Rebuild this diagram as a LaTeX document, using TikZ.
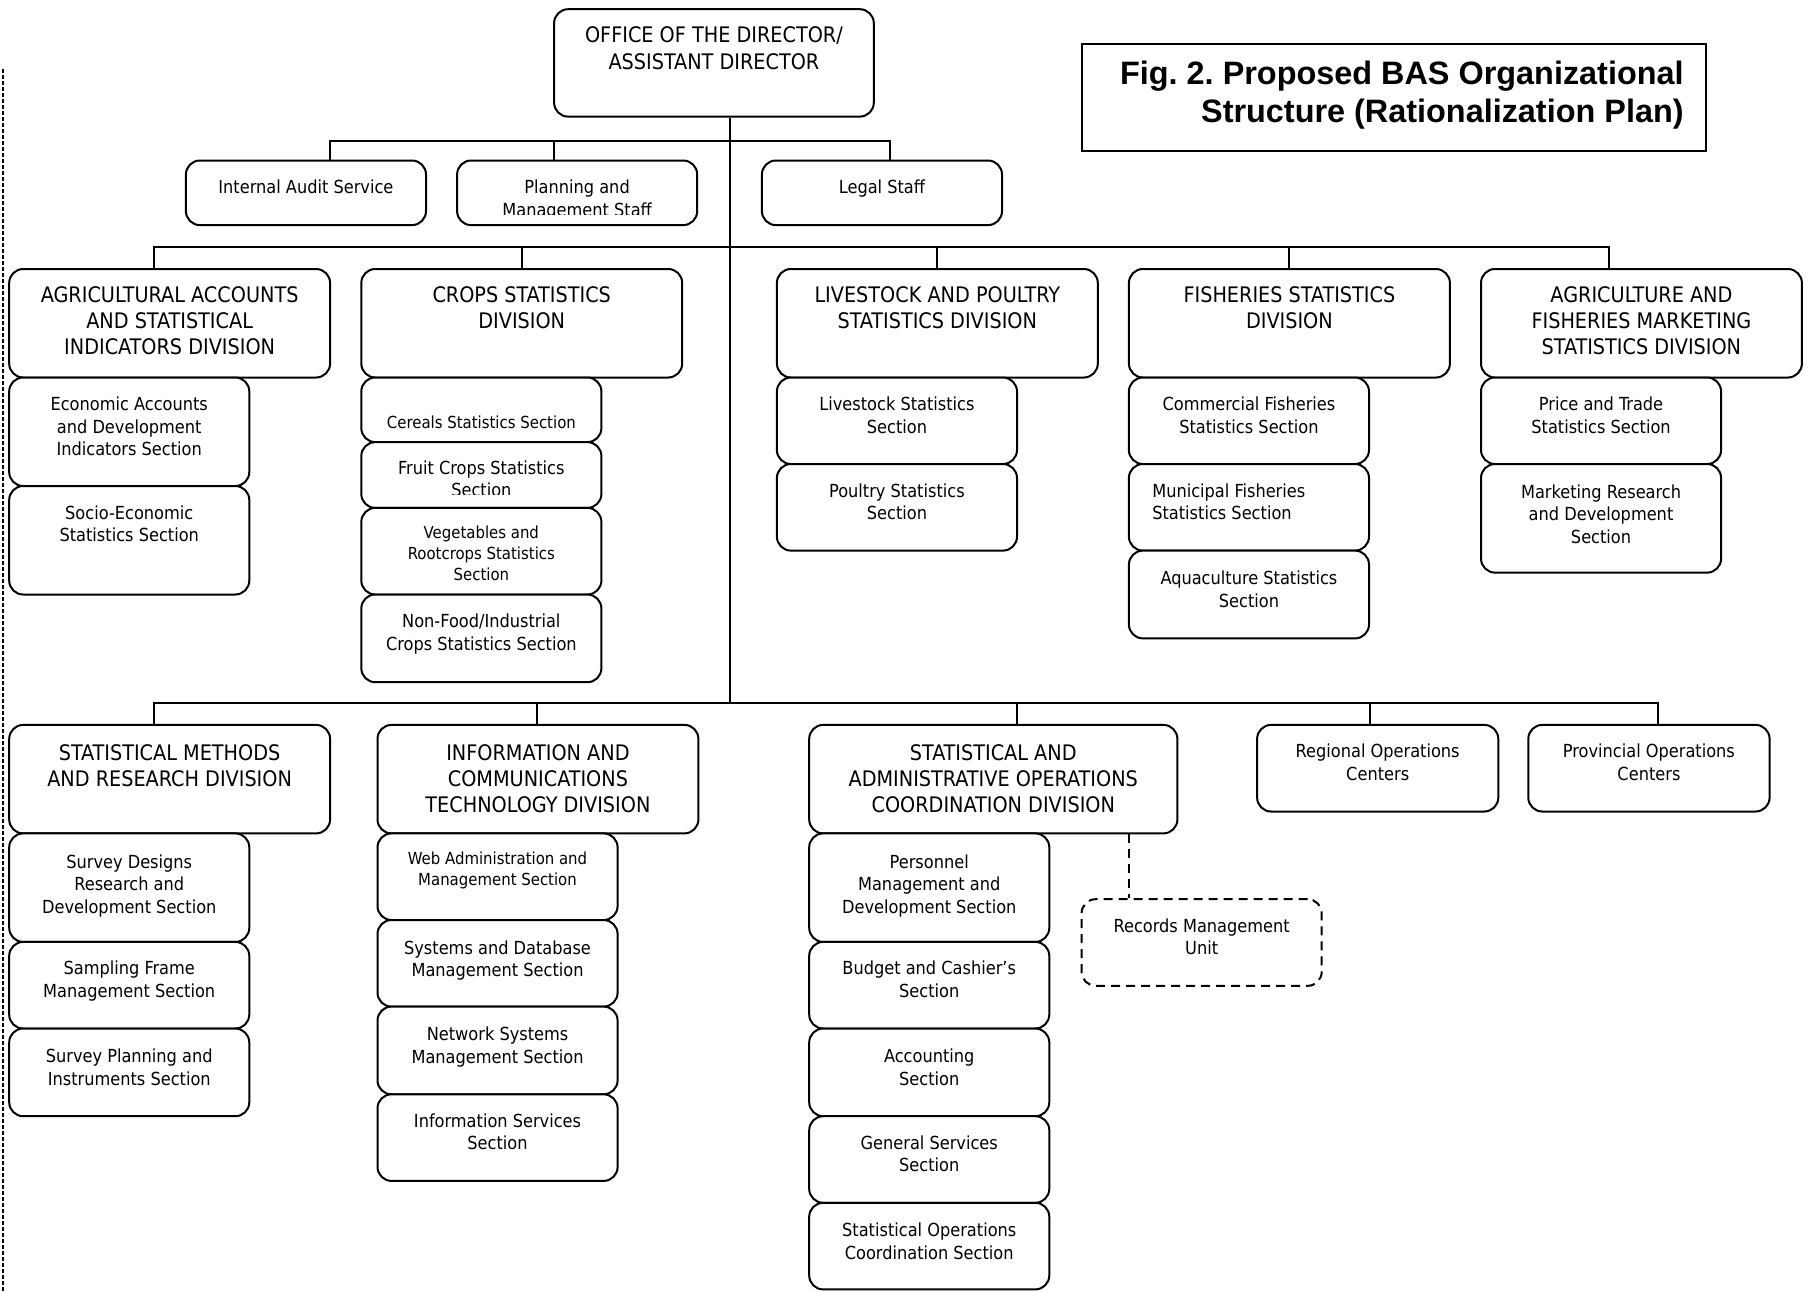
\documentclass[tikz,border=0pt]{standalone}
\usepackage{fontspec}
\setmainfont{DejaVu Sans Condensed}
\newfontfamily\titlefont{Liberation Sans}
\usetikzlibrary{fit}
\frenchspacing
\newcommand\Fdiv{\fontsize{10.7}{13}\selectfont}
\newcommand\Foff{\fontsize{10.7}{13.3}\selectfont}
\newcommand\Fsec{\fontsize{9}{11.25}\selectfont}
\newcommand\Fsm{\fontsize{8.3}{10.4}\selectfont}
\newcommand\Ftitle{\titlefont\bfseries\fontsize{16.2}{19}\selectfont}
\tikzset{
  bx/.style={draw, line width=1pt, rounded corners=7pt, fill=white, inner sep=0pt},
  dbx/.style={bx, dash pattern=on 4.5pt off 3pt},
  tx/.style={inner sep=0pt, align=center, anchor=north, font=\Fsec},
  dtx/.style={tx, font=\Fdiv},
  smtx/.style={tx, font=\Fsm},
  conn/.style={line width=1pt},
  dconn/.style={line width=1pt, dash pattern=on 4.5pt off 3pt},
}
% \Bx[opts]{name}{x1}{y1}{x2}{y2}
\newcommand\Bx[6][]{\node[bx,#1,fit={(#3,#4) (#5,#6)}] (#2) {};}
% \Tx[opts]{box}{offset pt}{text}
\newcommand\Tx[4][]{\node[tx,#1] (#2t) at ([yshift=-#3pt]#2.north) {#4};}
\begin{document}
\begin{tikzpicture}[x=0.5pt,y=-0.5pt]
\useasboundingbox (0,0) rectangle (1810,1291);
\fill[white] (0,0) rectangle (1810,1291);

% left dashed margin line
\coordinate (mA) at (3,69);
\coordinate (mB) at (3,1291);
\draw[line width=1.1pt, dash pattern=on 2.2pt off 0.8pt] (mA) -- (mB);

% ---------- connectors ----------
\coordinate (tk) at (729.5,703);
\coordinate (b1a) at (330.1,140.8);
\coordinate (b1p) at (554.1,140.8);
\coordinate (b1b) at (890,140.8);
\coordinate (b2a) at (153.5,247);
\coordinate (b2b) at (521.8,247);
\coordinate (b2c) at (937.3,247);
\coordinate (b2d) at (1289.4,247);
\coordinate (b2e) at (1609.2,247);
\coordinate (b3a) at (153.5,703);
\coordinate (b3b) at (536.8,703);
\coordinate (b3c) at (1017,703);
\coordinate (b3d) at (1370.2,703);
\coordinate (b3e) at (1657.6,703);
\coordinate (rd) at (1128.9,900);

% ---------- top ----------
\Bx{off}{554.1}{9.2}{873.8}{116.6}
\node[draw, line width=1pt, inner sep=0pt, fit={(1081.6,43.9) (1706.1,151.2)}] (ttl) {};
\node[inner sep=0pt, align=right, anchor=north east, font=\Ftitle] (ttlt) at (1684,61)
  {Fig. 2. Proposed BAS Organizational\\Structure (Rationalization Plan)};

\Bx{au}{185.9}{160.5}{426.0}{225.1}
\Bx{pl}{457.1}{160.5}{697.2}{225.1}
\Bx{lg}{761.9}{160.5}{1002.0}{225.1}

\draw[conn] (off.south -| tk) -- (tk);
\draw[conn] (au.north -| b1a) -- (b1a) -- (b1b) -- (lg.north -| b1b);
\draw[conn] (b1p) -- (pl.north -| b1p);

% ---------- row 1 divisions ----------
\Bx{ag}{9.2}{269}{330.1}{377.5}
\Bx{cr}{361.3}{269}{682.2}{377.5}
\Bx{lv}{776.9}{269}{1097.8}{377.5}
\Bx{fi}{1128.9}{269}{1449.9}{377.5}
\Bx{mk}{1481.0}{269}{1801.9}{377.5}
\draw[conn] (ag.north -| b2a) -- (b2a) -- (b2e) -- (mk.north -| b2e);
\draw[conn] (b2b) -- (cr.north -| b2b);
\draw[conn] (b2c) -- (lv.north -| b2c);
\draw[conn] (b2d) -- (fi.north -| b2d);

\Bx{ag1}{9.2}{377.5}{249.3}{486.0}
\Bx{ag2}{9.2}{486.0}{249.3}{594.5}
\Bx{cr1}{361.3}{377.5}{601.4}{442.1}
\Bx{cr2}{361.3}{442.1}{601.4}{507.9}
\Bx{cr3}{361.3}{507.9}{601.4}{594.5}
\Bx{cr4}{361.3}{594.5}{601.4}{682.2}
\Bx{lv1}{776.9}{377.5}{1017.0}{464.0}
\Bx{lv2}{776.9}{464.0}{1017.0}{550.6}
\Bx{fi1}{1128.9}{377.5}{1369.0}{464.0}
\Bx{fi2}{1128.9}{464.0}{1369.0}{550.6}
\Bx{fi3}{1128.9}{550.6}{1369.0}{638.4}
\Bx{mk1}{1481.0}{377.5}{1721.1}{464.0}
\Bx{mk2}{1481.0}{464.0}{1721.1}{572.6}

% ---------- row 2 divisions ----------
\Bx{sm}{9.2}{724.9}{330.1}{833.4}
\Bx{ict}{377.5}{724.9}{698.4}{833.4}
\Bx{sa}{809.2}{724.9}{1177.4}{833.4}
\Bx{rg}{1257.1}{724.9}{1498.3}{811.5}
\Bx{pv}{1528.3}{724.9}{1769.6}{811.5}
\draw[conn] (sm.north -| b3a) -- (b3a) -- (b3e) -- (pv.north -| b3e);
\draw[conn] (b3b) -- (ict.north -| b3b);
\draw[conn] (b3c) -- (sa.north -| b3c);
\draw[conn] (b3d) -- (rg.north -| b3d);

\Bx{sm1}{9.2}{833.4}{249.3}{941.9}
\Bx{sm2}{9.2}{941.9}{249.3}{1028.5}
\Bx{sm3}{9.2}{1028.5}{249.3}{1116.2}
\Bx{ict1}{377.5}{833.4}{617.6}{920.0}
\Bx{ict2}{377.5}{920.0}{617.6}{1006.6}
\Bx{ict3}{377.5}{1006.6}{617.6}{1094.3}
\Bx{ict4}{377.5}{1094.3}{617.6}{1180.9}
\Bx{sa1}{809.2}{833.4}{1049.3}{941.9}
\Bx{sa2}{809.2}{941.9}{1049.3}{1028.5}
\Bx{sa3}{809.2}{1028.5}{1049.3}{1116.2}
\Bx{sa4}{809.2}{1116.2}{1049.3}{1202.8}
\Bx{sa5}{809.2}{1202.8}{1049.3}{1289.4}
\Bx[dbx]{rec}{1081.6}{899.2}{1321.7}{985.8}
\draw[dconn] (sa.south -| rd) -- (rec.north -| rd);

% ---------- texts ----------
\Tx[font=\Foff]{off}{9}{OFFICE OF THE DIRECTOR/\\ASSISTANT DIRECTOR}
\Tx{au}{10}{Internal Audit Service}
\begin{scope}
  \clip (pl.north west) rectangle ([yshift=5.8pt]pl.south east);
  \Tx[align=center]{pl}{10}{Planning and\\Management Staff}
\end{scope}
\Tx{lg}{10}{Legal Staff}

\Tx[dtx]{ag}{9}{AGRICULTURAL ACCOUNTS\\AND STATISTICAL\\INDICATORS DIVISION}
\Tx[dtx]{cr}{9}{CROPS STATISTICS\\DIVISION}
\Tx[dtx]{lv}{9}{LIVESTOCK AND POULTRY\\STATISTICS DIVISION}
\Tx[dtx]{fi}{9}{FISHERIES STATISTICS\\DIVISION}
\Tx[dtx]{mk}{9}{AGRICULTURE AND\\FISHERIES MARKETING\\STATISTICS DIVISION}

\Tx{ag1}{10}{Economic Accounts\\and Development\\Indicators Section}
\Tx{ag2}{10}{Socio-Economic\\Statistics Section}
\Tx[smtx]{cr1}{19.5}{Cereals Statistics Section}
\begin{scope}
  \clip (cr2.north west) rectangle ([yshift=7pt]cr2.south east);
  \Tx{cr2}{9.5}{Fruit Crops Statistics\\Section}
\end{scope}
\Tx[smtx]{cr3}{9.5}{Vegetables and\\Rootcrops Statistics\\Section}
\Tx{cr4}{10}{Non-Food/Industrial\\Crops Statistics Section}
\Tx{lv1}{10}{Livestock Statistics\\Section}
\Tx{lv2}{10}{Poultry Statistics\\Section}
\Tx{fi1}{10}{Commercial Fisheries\\Statistics Section}
\node[tx, align=left, anchor=north west] (fi2t) at ([xshift=12pt,yshift=-10pt]fi2.north west)
  {Municipal Fisheries\\Statistics Section};
\Tx{fi3}{10.5}{Aquaculture Statistics\\Section}
\Tx{mk1}{10}{Price and Trade\\Statistics Section}
\Tx{mk2}{10.5}{Marketing Research\\and Development\\Section}

\Tx[dtx]{sm}{10}{STATISTICAL METHODS\\AND RESEARCH DIVISION}
\Tx[dtx]{ict}{10}{INFORMATION AND\\COMMUNICATIONS\\TECHNOLOGY DIVISION}
\Tx[dtx]{sa}{10}{STATISTICAL AND\\ADMINISTRATIVE OPERATIONS\\COORDINATION DIVISION}
\Tx{rg}{10}{Regional Operations\\Centers}
\Tx{pv}{10}{Provincial Operations\\Centers}

\Tx{sm1}{11}{Survey Designs\\Research and\\Development Section}
\Tx{sm2}{10}{Sampling Frame\\Management Section}
\Tx{sm3}{10.5}{Survey Planning and\\Instruments Section}
\Tx[smtx]{ict1}{9.5}{Web Administration and\\Management Section}
\Tx{ict2}{10.5}{Systems and Database\\Management Section}
\Tx{ict3}{10.5}{Network Systems\\Management Section}
\Tx{ict4}{10}{Information Services\\Section}
\Tx{sa1}{11}{Personnel\\Management and\\Development Section}
\Tx{sa2}{10}{Budget and Cashier’s\\Section}
\Tx{sa3}{10.5}{Accounting\\Section}
\Tx{sa4}{10}{General Services\\Section}
\Tx{sa5}{10.5}{Statistical Operations\\Coordination Section}
\Tx{rec}{10}{Records Management\\Unit}
\end{tikzpicture}
\end{document}
